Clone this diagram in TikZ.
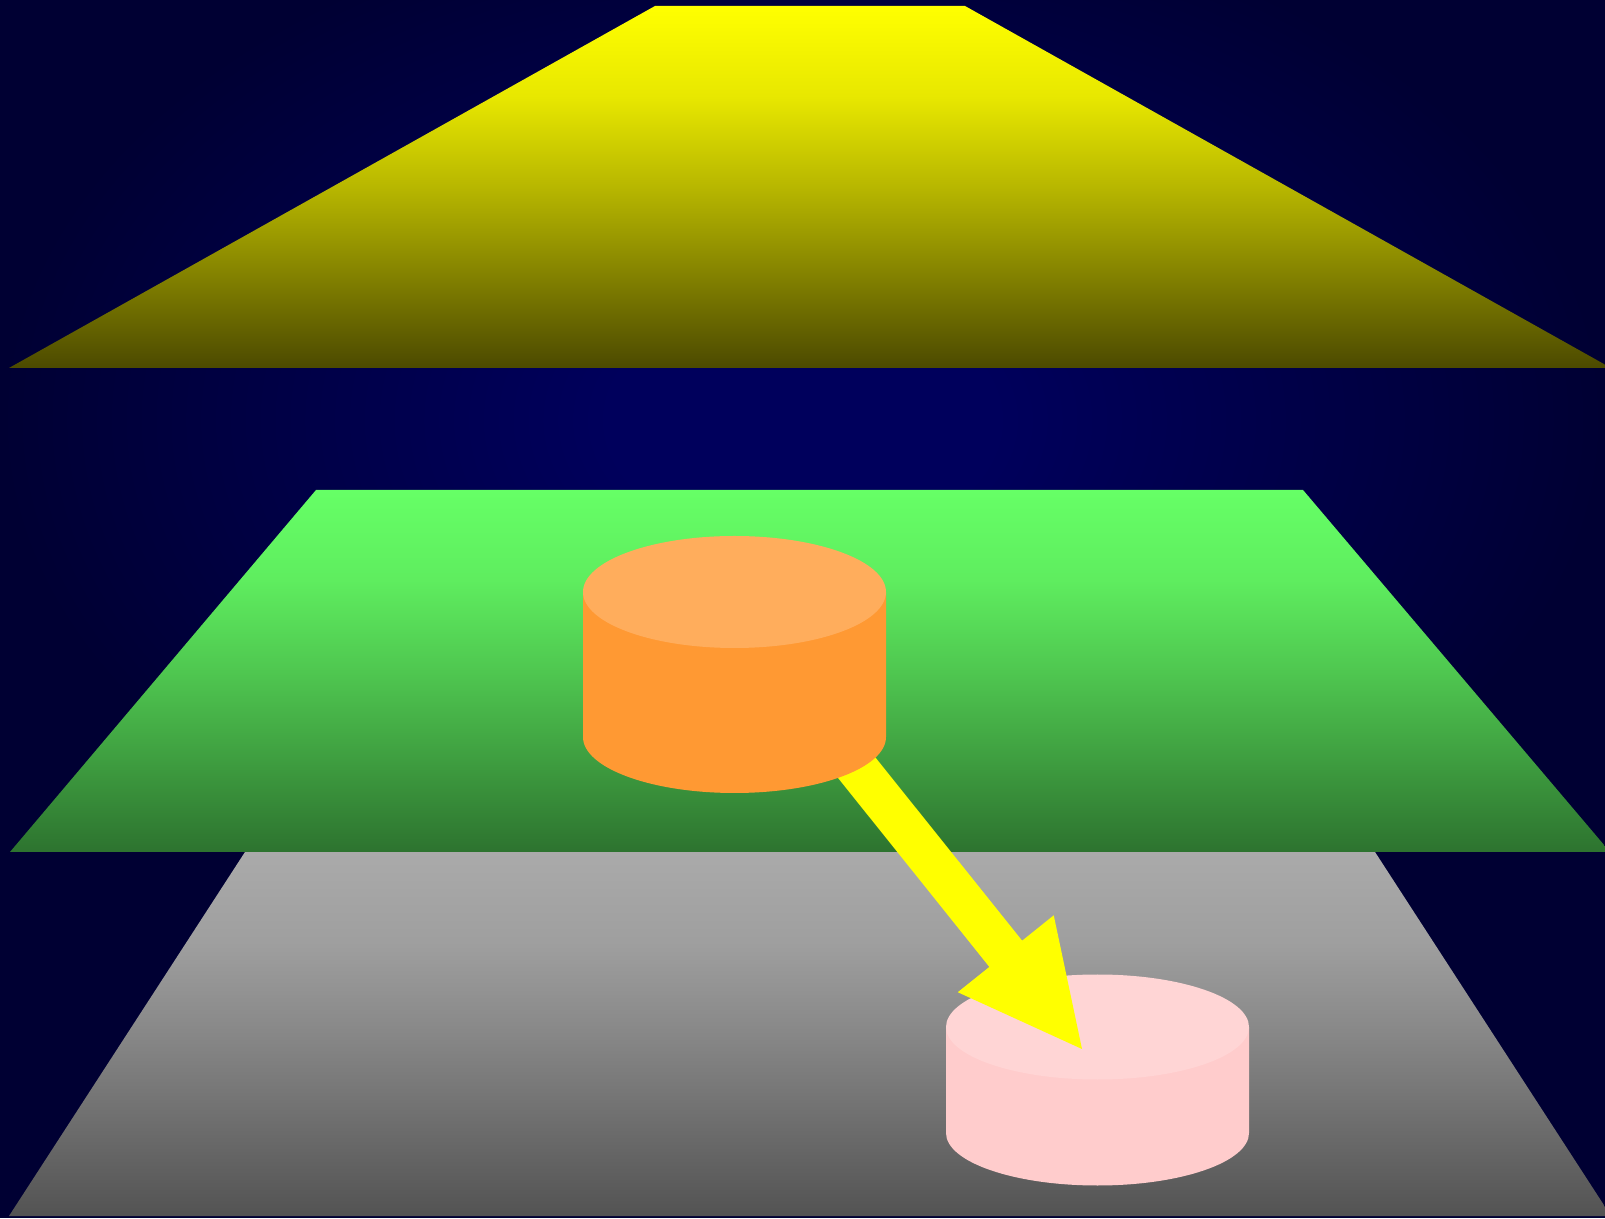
\documentclass[tikz,border=0pt]{standalone}
\usetikzlibrary{calc}
\definecolor{bgc}{HTML}{00005C}
\definecolor{bge}{HTML}{000033}
\definecolor{ytop}{HTML}{FFFF00}
\definecolor{ybot}{HTML}{4C4A00}
\definecolor{gtop}{HTML}{66FF66}
\definecolor{gbot}{HTML}{2D732F}
\definecolor{ktop}{HTML}{AAAAAA}
\definecolor{kbot}{HTML}{535353}
\definecolor{orangebody}{HTML}{FF9933}
\definecolor{orangelid}{HTML}{FFAD5C}
\definecolor{pinkbody}{HTML}{FFCCCC}
\definecolor{pinklid}{HTML}{FFD5D5}
\definecolor{arrowyellow}{HTML}{FFFF00}
\colorlet{y25}{ybot!13!ytop}\colorlet{y50}{ybot!40!ytop}\colorlet{y75}{ybot!70!ytop}
\colorlet{g25}{gbot!13!gtop}\colorlet{g50}{gbot!40!gtop}\colorlet{g75}{gbot!70!gtop}
\colorlet{k25}{kbot!13!ktop}\colorlet{k50}{kbot!40!ktop}\colorlet{k75}{kbot!70!ktop}
\pgfdeclareverticalshading{yellowgrad}{100bp}{color(0bp)=(ybot); color(25bp)=(ybot); color(37.5bp)=(y75); color(50bp)=(y50); color(62.5bp)=(y25); color(75bp)=(ytop); color(100bp)=(ytop)}
\pgfdeclareverticalshading{greengrad}{100bp}{color(0bp)=(gbot); color(25bp)=(gbot); color(37.5bp)=(g75); color(50bp)=(g50); color(62.5bp)=(g25); color(75bp)=(gtop); color(100bp)=(gtop)}
\pgfdeclareverticalshading{graygrad}{100bp}{color(0bp)=(kbot); color(25bp)=(kbot); color(37.5bp)=(k75); color(50bp)=(k50); color(62.5bp)=(k25); color(75bp)=(ktop); color(100bp)=(ktop)}
\pgfdeclareradialshading{bgrad}{\pgfpoint{0bp}{0bp}}{color(0bp)=(bgc); color(6bp)=(bgc); color(25bp)=(bge); color(50bp)=(bge)}
\tikzset{
  layer/.style={shading=#1},
  cylbody/.style={fill=#1},
  cyllid/.style={fill=#1},
  arrowfill/.style={fill=arrowyellow}
}
\begin{document}
\begin{tikzpicture}[x=1pt,y=1pt]
\useasboundingbox (0,0) rectangle (1605,1218);
\clip (0,0) rectangle (1605,1218);
% background
\fill[bge] (0,0) rectangle (1605,1218);
\shade[shading=bgrad] (0,278) rectangle (1605,1318);
% top layer (yellow)
\shade[layer=yellowgrad] (655,1212) -- (965,1212) -- (1611,850) -- (9,850) -- cycle;
% bottom layer (gray)
\shade[layer=graygrad] (245,366) -- (1375,366) -- (1611,2) -- (9,2) -- cycle;
% middle layer (green)
\shade[layer=greengrad] (316,728) -- (1303,728) -- (1610,366) -- (10,366) -- cycle;
% named reference points
\coordinate (orangetop) at (734.5,626);
\coordinate (orangebot) at (734.5,481);
\coordinate (pinktop) at (1097.5,191);
\coordinate (pinkbot) at (1097.5,85);
\coordinate (arrowsrc) at (732,606);
\coordinate (arrowtip) at (1082,169);
% pink cylinder
\fill[cylbody=pinkbody] ($(pinktop)+(-151.5,0)$) -- ($(pinkbot)+(-151.5,0)$)
  arc[start angle=180,end angle=360,x radius=151.5pt,y radius=52.5pt]
  -- ($(pinktop)+(151.5,0)$) -- cycle;
\fill[cyllid=pinklid] (pinktop) ellipse[x radius=151.5pt,y radius=52.5pt];
% arrow
\path ($(arrowtip)!122pt!(arrowsrc)$) coordinate (headbase);
\fill[arrowfill] ($(arrowsrc)!21pt!90:(arrowtip)$)
  -- ($(headbase)!21pt!90:(arrowtip)$)
  -- ($(headbase)!61.5pt!90:(arrowtip)$)
  -- (arrowtip)
  -- ($(headbase)!61.5pt!-90:(arrowtip)$)
  -- ($(headbase)!21pt!-90:(arrowtip)$)
  -- ($(arrowsrc)!21pt!-90:(arrowtip)$) -- cycle;
% orange cylinder
\fill[cylbody=orangebody] ($(orangetop)+(-151.5,0)$) -- ($(orangebot)+(-151.5,0)$)
  arc[start angle=180,end angle=360,x radius=151.5pt,y radius=56pt]
  -- ($(orangetop)+(151.5,0)$) -- cycle;
\fill[cyllid=orangelid] (orangetop) ellipse[x radius=151.5pt,y radius=56pt];
\end{tikzpicture}
\end{document}
